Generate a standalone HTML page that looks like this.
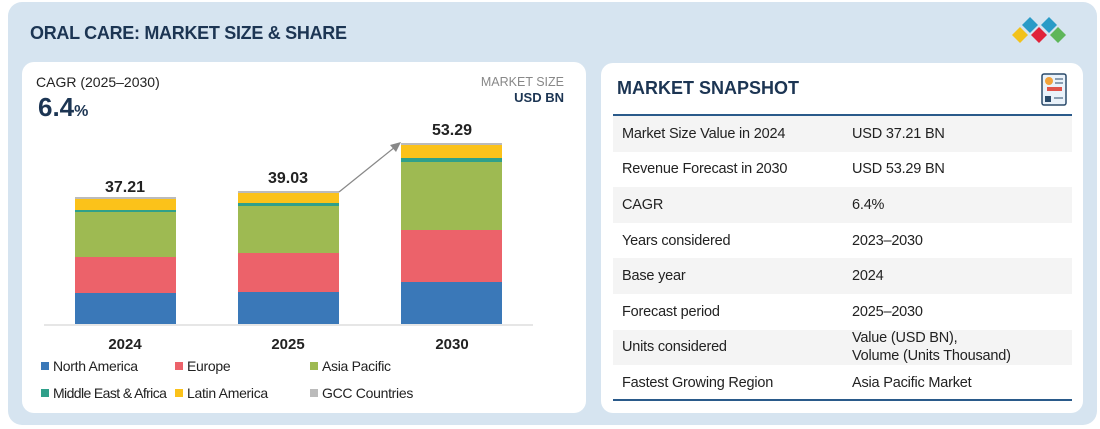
<!DOCTYPE html>
<html><head><meta charset="utf-8"><style>
*{margin:0;padding:0;box-sizing:border-box}
body{width:1100px;height:429px;background:#fff;font-family:"Liberation Sans",sans-serif;position:relative;overflow:hidden}
.abs{position:absolute}
.outer{left:8px;top:2px;width:1089px;height:423px;background:#d6e4f0;border-radius:14px}
.card{background:#fff;border-radius:12px}
.row{position:absolute;left:613px;width:459px;height:35.6px;font-size:14.5px;color:#222;letter-spacing:-0.2px}
.row span{position:absolute;top:50%;transform:translateY(-50%)}
.leg{position:absolute;font-size:14px;color:#222;letter-spacing:-0.3px;white-space:nowrap}
.leg i{display:inline-block;width:8px;height:8px;margin-right:4px;vertical-align:1px}
</style></head><body>
<div class="abs outer"></div>
<div class="abs" style="left:30px;top:23px;font-size:18px;font-weight:bold;color:#1c3553;letter-spacing:-0.3px">ORAL CARE: MARKET SIZE &amp; SHARE</div>
<svg class="abs" style="left:1005px;top:14px" width="66" height="36">
<polygon points="25,3 33,11 25,19 17,11" fill="#2a9bc7"/><polygon points="44,3 52,11 44,19 36,11" fill="#2a9bc7"/>
<polygon points="15,13 23,21 15,29 7,21" fill="#f2c21b"/><polygon points="34,13 42,21 34,29 26,21" fill="#e0233a"/><polygon points="53,13 61,21 53,29 45,21" fill="#5fb65a"/>
</svg>
<div class="abs card" style="left:22px;top:62px;width:564px;height:351px"></div>
<div class="abs card" style="left:601px;top:63px;width:482px;height:350px"></div>
<div class="abs" style="left:36px;top:74px;font-size:14px;color:#222">CAGR (2025–2030)</div>
<div class="abs" style="left:38px;top:92px;font-size:26px;font-weight:bold;color:#1c3553">6.4<span style="font-size:16px">%</span></div>
<div class="abs" style="left:440px;top:75px;width:124px;text-align:right;font-size:12.5px;color:#888">MARKET SIZE</div>
<div class="abs" style="left:440px;top:90px;width:124px;text-align:right;font-size:13px;font-weight:bold;color:#1c3553">USD BN</div>
<svg class="abs" style="left:0;top:0" width="600" height="429">
<line x1="44" y1="325" x2="533" y2="325" stroke="#ddd" stroke-width="1.5"/>
<g>
<rect x="75" y="293" width="101" height="31" fill="#3a78b8"/><rect x="75" y="257" width="101" height="36" fill="#ec626a"/><rect x="75" y="212" width="101" height="45" fill="#9eba52"/><rect x="75" y="210" width="101" height="2" fill="#2fa08a"/><rect x="75" y="199" width="101" height="11" fill="#fbc21a"/><rect x="75" y="197" width="101" height="2" fill="#bbb"/>
<rect x="238" y="292" width="101" height="32" fill="#3a78b8"/><rect x="238" y="253" width="101" height="39" fill="#ec626a"/><rect x="238" y="206" width="101" height="47" fill="#9eba52"/><rect x="238" y="203" width="101" height="3" fill="#2fa08a"/><rect x="238" y="193" width="101" height="10" fill="#fbc21a"/><rect x="238" y="191" width="101" height="2" fill="#bbb"/>
<rect x="401" y="282" width="101" height="42" fill="#3a78b8"/><rect x="401" y="230" width="101" height="52" fill="#ec626a"/><rect x="401" y="162" width="101" height="68" fill="#9eba52"/><rect x="401" y="158" width="101" height="4" fill="#2fa08a"/><rect x="401" y="145" width="101" height="13" fill="#fbc21a"/><rect x="401" y="143" width="101" height="2" fill="#bbb"/>
</g>
<line x1="339" y1="192" x2="395" y2="147" stroke="#888" stroke-width="1.2"/>
<polygon points="401,142 390,145 396,152" fill="#888"/>
<g font-family="Liberation Sans" font-weight="bold" font-size="16" fill="#222" text-anchor="middle">
<text x="125" y="192">37.21</text><text x="288" y="183">39.03</text><text x="452" y="135">53.29</text>
<text x="125" y="349" font-size="15">2024</text><text x="288" y="349" font-size="15">2025</text><text x="452" y="349" font-size="15">2030</text>
</g>
</svg>
<div class="leg" style="left:41px;top:358px"><i style="background:#3a78b8"></i>North America</div>
<div class="leg" style="left:175px;top:358px"><i style="background:#ec626a"></i>Europe</div>
<div class="leg" style="left:310px;top:358px"><i style="background:#9eba52"></i>Asia Pacific</div>
<div class="leg" style="left:41px;top:385px;letter-spacing:-0.6px"><i style="background:#2fa08a"></i>Middle East &amp; Africa</div>
<div class="leg" style="left:175px;top:385px"><i style="background:#fbc21a"></i>Latin America</div>
<div class="leg" style="left:310px;top:385px"><i style="background:#bbb"></i>GCC Countries</div>
<div class="abs" style="left:617px;top:78px;font-size:18px;font-weight:bold;color:#1c3553">MARKET SNAPSHOT</div>
<svg class="abs" style="left:1041px;top:73px" width="26" height="33"><rect x="1" y="1" width="24" height="31" rx="2" fill="#eaf2fa" stroke="#2a4a6a" stroke-width="1.5"/><circle cx="8" cy="8" r="4" fill="#f2a23a"/><rect x="6" y="14" width="15" height="4" fill="#e0534a"/><rect x="4" y="23" width="6" height="6" fill="#2a4a6a"/><line x1="14" y1="6" x2="22" y2="6" stroke="#2a4a6a"/><line x1="14" y1="10" x2="22" y2="10" stroke="#2a4a6a"/><line x1="13" y1="25" x2="22" y2="25" stroke="#2a4a6a"/></svg>
<div class="abs" style="left:613px;top:114px;width:459px;height:2px;background:#2a5a8a"></div>
<div class="row" style="top:116px;background:#f4f4f4"><span style="left:9px">Market Size Value in 2024</span><span style="left:239px">USD 37.21 BN</span></div>
<div class="row" style="top:151.6px"><span style="left:9px">Revenue Forecast in 2030</span><span style="left:239px">USD 53.29 BN</span></div>
<div class="row" style="top:187.2px;background:#f4f4f4"><span style="left:9px">CAGR</span><span style="left:239px">6.4%</span></div>
<div class="row" style="top:222.8px"><span style="left:9px">Years considered</span><span style="left:239px">2023–2030</span></div>
<div class="row" style="top:258.4px;background:#f4f4f4"><span style="left:9px">Base year</span><span style="left:239px">2024</span></div>
<div class="row" style="top:294px"><span style="left:9px">Forecast period</span><span style="left:239px">2025–2030</span></div>
<div class="row" style="top:329.6px;background:#f4f4f4"><span style="left:9px">Units considered</span><span style="left:239px;line-height:18px">Value (USD BN),<br>Volume (Units Thousand)</span></div>
<div class="row" style="top:365.2px"><span style="left:9px">Fastest Growing Region</span><span style="left:239px">Asia Pacific Market</span></div>
<div class="abs" style="left:613px;top:399px;width:459px;height:2px;background:#2a5a8a"></div>
</body></html>
